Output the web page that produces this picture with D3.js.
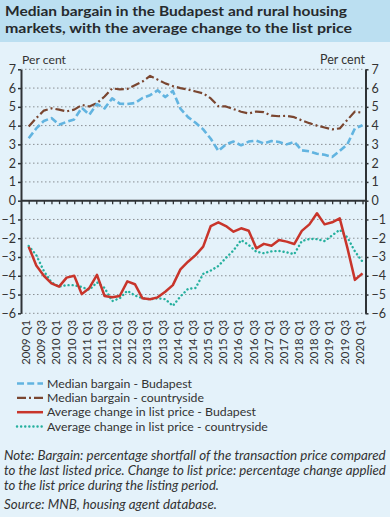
<!DOCTYPE html>
<html><head><meta charset="utf-8">
<script src="https://cdn.jsdelivr.net/npm/d3@7"></script>
<style>body{margin:0;background:#e4f2fa;} svg{display:block;font-family:Lato,"Noto Sans",sans-serif;}</style>
</head><body><svg id="c" width="390" height="517"></svg>
<script>
const quarters = ["2009 Q1","2009 Q2","2009 Q3","2009 Q4","2010 Q1","2010 Q2","2010 Q3","2010 Q4","2011 Q1","2011 Q2","2011 Q3","2011 Q4","2012 Q1","2012 Q2","2012 Q3","2012 Q4","2013 Q1","2013 Q2","2013 Q3","2013 Q4","2014 Q1","2014 Q2","2014 Q3","2014 Q4","2015 Q1","2015 Q2","2015 Q3","2015 Q4","2016 Q1","2016 Q2","2016 Q3","2016 Q4","2017 Q1","2017 Q2","2017 Q3","2017 Q4","2018 Q1","2018 Q2","2018 Q3","2018 Q4","2019 Q1","2019 Q2","2019 Q3","2019 Q4","2020 Q1"];
const medianBudapest = [3.33,3.85,4.25,4.4,4.05,4.2,4.33,4.95,4.58,5.15,4.92,5.45,5.17,5.15,5.2,5.47,5.62,5.88,5.52,5.85,4.9,4.45,4.15,3.8,3.3,2.65,3.0,3.15,2.95,3.15,3.2,3.05,3.18,3.13,3.0,3.13,2.68,2.63,2.5,2.45,2.33,2.65,3.0,3.85,4.02];
const medianCountryside = [3.95,4.4,4.8,4.92,4.85,4.76,4.85,5.1,5.02,5.2,5.55,5.98,5.93,5.95,6.15,6.35,6.65,6.45,6.25,6.1,6.0,5.92,5.82,5.72,5.45,5.03,5.02,4.88,4.74,4.65,4.75,4.72,4.53,4.5,4.52,4.45,4.28,4.13,4.0,3.9,3.8,3.85,4.3,4.75,4.68];
const listChangeBudapest = [-2.45,-3.45,-4.0,-4.4,-4.58,-4.1,-4.0,-4.98,-4.65,-3.95,-5.08,-5.15,-5.08,-4.3,-4.45,-5.2,-5.25,-5.15,-4.85,-4.5,-3.66,-3.25,-2.9,-2.45,-1.35,-1.15,-1.35,-1.65,-1.47,-1.6,-2.54,-2.3,-2.4,-2.09,-2.18,-2.31,-1.61,-1.26,-0.67,-1.26,-1.15,-0.94,-2.5,-4.22,-3.87];
const listChangeCountryside = [-2.41,-2.9,-3.75,-4.35,-4.58,-4.5,-4.5,-4.6,-4.75,-4.35,-4.65,-5.35,-5.2,-4.8,-5.05,-5.2,-5.25,-5.2,-5.25,-5.6,-5.1,-4.7,-4.65,-3.9,-3.72,-3.48,-3.05,-2.65,-2.1,-2.36,-2.72,-2.8,-2.7,-2.68,-2.75,-2.85,-2.15,-2.04,-2.05,-2.15,-1.85,-1.55,-1.95,-2.7,-3.25];
const yTicks = [-6,-5,-4,-3,-2,-1,0,1,2,3,4,5,6,7];
const titleLines = ["Median bargain in the Budapest and rural housing","markets, with the average change to the list price"];
const seriesNames = ["Median bargain - Budapest","Median bargain - countryside","Average change in list price - Budapest","Average change in list price - countryside"];
const noteLines = ["Note: Bargain: percentage shortfall of the transaction price compared","to the last listed price. Change to list price: percentage change applied","to the list price during the listing period."];
const sourceLine = "Source: MNB, housing agent database.";

const svg = d3.select("#c");
const fit = (el, w) => { const fs = parseFloat(el.getAttribute("font-size")); const L = el.getComputedTextLength(); el.setAttribute("font-size", (fs*w/L).toFixed(2)); return fs*w/L; };

svg.append("rect").attr("x",0).attr("y",0).attr("width",390).attr("height",517).attr("fill","#e4f2fa");
svg.append("rect").attr("x",0).attr("y",0).attr("width",390).attr("height",42).attr("fill","#bbdff1");

const tW = [342,347], tY=[16,33];
titleLines.forEach((t,i)=>{
  svg.append("text").attr("x",5).attr("y",tY[i]).attr("font-size",14).attr("font-weight","bold").attr("fill","#262a2d")
    .attr("textLength",tW[i]).attr("lengthAdjust","spacingAndGlyphs").text(t);
});

const L = 21, R = 365.5;
const x = d3.scalePoint().domain(quarters).range([28.7, 362.5]);
const y = d3.scaleLinear().domain([-6,7]).range([313.3, 69.3]);

// grid
svg.append("g").selectAll("line").data(yTicks.filter(d=>d!==0)).join("line")
  .attr("x1",L).attr("x2",R).attr("y1",d=>y(d)).attr("y2",d=>y(d))
  .attr("stroke","#8a8f93").attr("stroke-width",1).attr("stroke-dasharray","1.5,2.5");

const fmt = d => d<0 ? "\u2212"+Math.abs(d) : String(d);
const gl = svg.append("g").attr("transform",`translate(${L},0)`)
  .call(d3.axisLeft(y).tickValues(yTicks).tickSize(3).tickSizeOuter(0).tickPadding(2).tickFormat(fmt));
const gr = svg.append("g").attr("transform",`translate(${R},0)`)
  .call(d3.axisRight(y).tickValues(yTicks).tickSize(3).tickSizeOuter(0).tickPadding(3).tickFormat(fmt));
[gl,gr].forEach(g=>{
  g.select(".domain").attr("stroke","#2f3336").attr("stroke-width",2);
  g.selectAll(".tick line").attr("stroke","#2f3336").attr("stroke-width",1.5);
  g.selectAll(".tick text").attr("font-size",12.5).attr("fill","#333").attr("font-family","Lato, sans-serif");
});

// zero line with quarter ticks
const gz = svg.append("g").attr("transform",`translate(0,${y(0)})`)
  .call(d3.axisBottom(x).tickSize(3.5).tickSizeOuter(0).tickFormat(""));
gz.select(".domain").remove();
gz.selectAll(".tick line").attr("stroke","#2f3336").attr("stroke-width",1.3);
svg.append("line").attr("x1",L).attr("x2",R).attr("y1",y(0)).attr("y2",y(0)).attr("stroke","#2f3336").attr("stroke-width",2);

// x labels
const gx = svg.append("g").attr("transform",`translate(0,${y(-6)})`)
  .call(d3.axisBottom(x).tickValues(quarters.filter((q,i)=>i%2===0)).tickSize(0).tickSizeOuter(0));
gx.select(".domain").remove();
gx.selectAll(".tick text").attr("font-size",11).attr("fill","#333").attr("font-family","Lato, sans-serif")
  .attr("text-anchor","end").attr("transform","rotate(-90)").attr("x",-6.5).attr("y",-3.3).attr("dy","0.36em").attr("dx",0);
{ const first = gx.select(".tick text").node(); const fs = fit(first,45); gx.selectAll(".tick text").attr("font-size",fs.toFixed(2)); }
gx.selectAll(".tick text").attr("y",-3.3);

// Per cent labels
const pl = svg.append("text").attr("x",22).attr("y",64).attr("font-size",11).attr("fill","#333").text("Per cent"); fit(pl.node(),44);
const pr = svg.append("text").attr("x",365).attr("y",64).attr("font-size",11).attr("fill","#333").attr("text-anchor","end").text("Per cent"); fit(pr.node(),45);

const styles = [
  {data: medianBudapest, color:"#62b4e0", w:2.6, dash:"7,3.2", cap:"butt"},
  {data: medianCountryside, color:"#7a4630", w:2.2, dash:"9,3,2,3", cap:"butt"},
  {data: listChangeBudapest, color:"#c8352b", w:2.5, dash:null, cap:"butt"},
  {data: listChangeCountryside, color:"#25b09e", w:2.4, dash:"0.1,4", cap:"round"}
];
const line = d3.line().x((d,i)=>x(quarters[i])).y(d=>y(d));
[3,2,1,0].forEach(k=>{
  const s = styles[k];
  svg.append("path").datum(s.data).attr("d",line).attr("fill","none").attr("stroke",s.color)
    .attr("stroke-width",s.w).attr("stroke-dasharray",s.dash).attr("stroke-linecap",s.cap).attr("stroke-linejoin","round");
});

// legend
const legY = [383.5,397.8,412.2,426.5];
const legW = [145,157,209,221];
seriesNames.forEach((n,i)=>{
  const s = styles[i];
  svg.append("line").attr("x1",17).attr("x2",43).attr("y1",legY[i]).attr("y2",legY[i]).attr("stroke",s.color)
    .attr("stroke-width",s.w).attr("stroke-dasharray",s.dash).attr("stroke-linecap",s.cap);
  const t = svg.append("text").attr("x",47).attr("y",legY[i]+4.2).attr("font-size",12).attr("fill","#333").text(n);
  fit(t.node(), legW[i]);
});

// notes
const nY = [459.5,474.5,489.5], nW=[382,382,215];
noteLines.forEach((n,i)=>{
  const t = svg.append("text").attr("x",4).attr("y",nY[i]).attr("font-size",11).attr("font-style","italic").attr("fill","#333").text(n);
  fit(t.node(), nW[i]);
});
const st = svg.append("text").attr("x",4).attr("y",508.5).attr("font-size",11).attr("font-style","italic").attr("fill","#333").text(sourceLine);
fit(st.node(), 213);
</script></body></html>
